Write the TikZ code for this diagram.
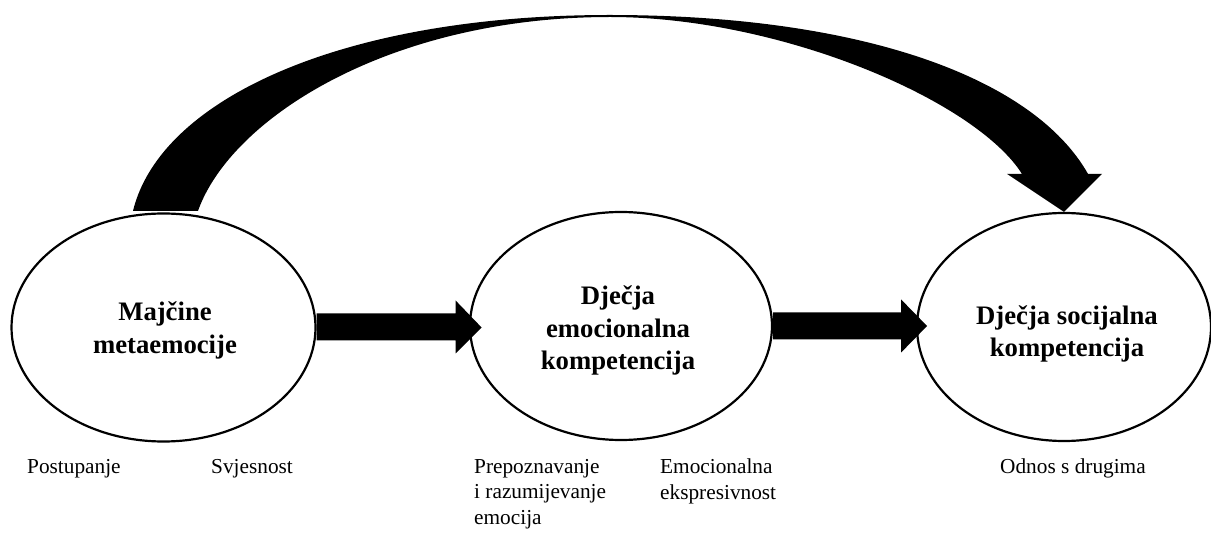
\documentclass[tikz,border=0pt]{standalone}
\usepackage{fontspec}
\setmainfont{Liberation Serif}
\usetikzlibrary{shapes.geometric,calc}
\tikzset{
  ell/.style={draw, line width=2.2pt, ellipse, inner sep=0pt},
  big/.style={font=\fontsize{26.7}{32.5}\selectfont\bfseries, align=center, inner sep=0pt},
  lab/.style={font=\fontsize{21.3}{25.5}\selectfont, align=left, anchor=north west, inner sep=0pt},
  fat/.style={fill=black, draw=none},
}
\begin{document}
\begin{tikzpicture}[x=1pt, y=-1pt]
\useasboundingbox (0,0) rectangle (1211,534);

% ellipses
\node[ell, minimum width=304pt, minimum height=228pt] (e1) at (163.5,327.5) {};
\node[ell, minimum width=302pt, minimum height=228pt] (e2) at (621,326) {};
\node[ell, minimum width=294pt, minimum height=228pt] (e3) at (1064,327) {};

% straight arrows
\coordinate (s1) at (e1.east);
\fill[fat] ($(s1)+(0,-14)$) -- ($(s1)+(139,-14)$) -- ($(s1)+(139,-27)$) -- ($(s1)+(165,0)$)
  -- ($(s1)+(139,26)$) -- ($(s1)+(139,13)$) -- ($(s1)+(0,13)$) -- cycle;
\coordinate (s2) at (e2.east);
\fill[fat] ($(s2)+(0,-13.5)$) -- ($(s2)+(128,-13.5)$) -- ($(s2)+(128,-26.5)$) -- ($(s2)+(154,0)$)
  -- ($(s2)+(128,26.5)$) -- ($(s2)+(128,13.5)$) -- ($(s2)+(0,13.5)$) -- cycle;

% curved arrow from e1 to e3
\coordinate (A1) at ($(e1.north)+(-30.5,-1.5)$);
\coordinate (I1) at ($(e1.north)+(34.5,-1.5)$);
\coordinate (T) at (e3.north);
\coordinate (O2) at ($(T)+(24,-38)$);
\coordinate (H2) at ($(T)+(38,-38)$);
\coordinate (H1) at ($(T)+(-57,-38)$);
\coordinate (I2) at ($(T)+(-42,-38)$);
\fill[fat] (A1) .. controls (160,100) and (340,15) .. (610,15)
  .. controls (860,15) and (1033,77) .. (O2) -- (H2) -- (T) -- (H1) -- (I2)
  .. controls (975,100) and (780,17) .. (610,17)
  .. controls (390,17) and (231,118) .. (I1) -- cycle;

% ellipse texts
\node[big] (t1) at (165,330.5) {Majčine\\metaemocije};
\node[big] (t2) at (618,330.8) {Dječja\\emocionalna\\kompetencija};
\node[big] (t3) at (1067,334) {Dječja socijalna\\kompetencija};

% bottom labels
\node[lab] (l1) at (27,459) {Postupanje};
\node[lab] (l2) at (211,459) {Svjesnost};
\node[lab] (l3) at (474,459) {Prepoznavanje\\i razumijevanje\\emocija};
\node[lab] (l4) at (660,459) {Emocionalna\\ekspresivnost};
\node[lab] (l5) at (1000,459) {Odnos s drugima};
\end{tikzpicture}
\end{document}
